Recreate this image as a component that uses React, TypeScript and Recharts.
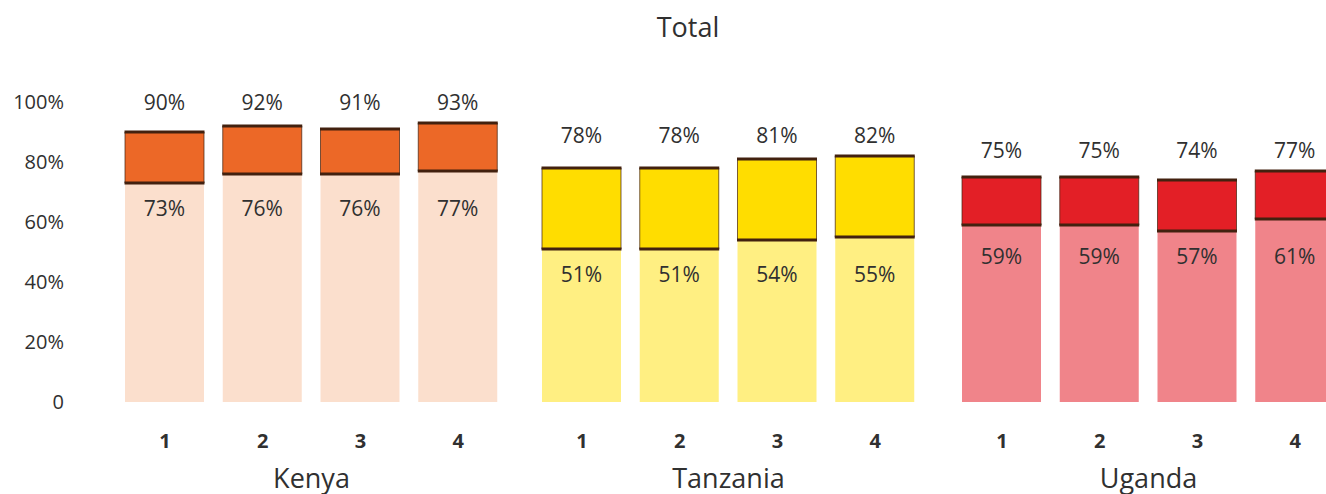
import React from 'react';
import { BarChart, Bar, XAxis, YAxis, LabelList } from 'recharts';

const quarters = ['1', '2', '3', '4'];
const yTicks = [0, 20, 40, 60, 80, 100];

const kenyaLow = [73, 76, 76, 77];
const kenyaHigh = [90, 92, 91, 93];
const tanzaniaLow = [51, 51, 54, 55];
const tanzaniaHigh = [78, 78, 81, 82];
const ugandaLow = [59, 59, 57, 61];
const ugandaHigh = [75, 75, 74, 77];

const FONT = '"Open Sans", sans-serif';
const TEXT = '#303030';
const EDGE = '#42210f';
const CHART_H = 494;
const PLOT_TOP = 102;
const AXIS_H = 92;
const PLOT_H = CHART_H - PLOT_TOP - AXIS_H;

const yOf = (v: number) => PLOT_TOP + PLOT_H * (1 - v / 100);

const OutlinedBox = (p: any) => {
  const { x, y, width, height, fill } = p;
  if (!width || !height) return null;
  return (
    <g>
      <rect x={x} y={y} width={width} height={height} fill={fill} />
      <line x1={x} y1={y} x2={x} y2={y + height} stroke={EDGE} strokeWidth={1} opacity={0.7} />
      <line x1={x + width} y1={y} x2={x + width} y2={y + height} stroke={EDGE} strokeWidth={1} opacity={0.7} />
      <line x1={x - 0.5} y1={y} x2={x + width + 0.5} y2={y} stroke={EDGE} strokeWidth={3} />
      <line x1={x - 0.5} y1={y + height} x2={x + width + 0.5} y2={y + height} stroke={EDGE} strokeWidth={3} />
    </g>
  );
};

const makeLabel = (labelY: number) => (p: any) => {
  const x = p.x ?? p.viewBox?.x;
  const w = p.width ?? p.viewBox?.width;
  return (
    <text
      x={x + w / 2}
      y={labelY}
      textAnchor="middle"
      dominantBaseline="central"
      fontFamily={FONT}
      fontSize={21}
      fill={TEXT}
    >
      {p.value}%
    </text>
  );
};

interface GroupProps {
  name: string;
  low: number[];
  high: number[];
  dark: string;
  light: string;
  width: number;
  left: number;
  showAxis?: boolean;
}

const GroupChart: React.FC<GroupProps> = ({ name, low, high, dark, light, width, left, showAxis }) => {
  const data = quarters.map((q, i) => ({ q, low: low[i], high: high[i], gap: high[i] - low[i] }));
  const topY = yOf(Math.max(...high)) - 21;
  const lowY = yOf(Math.min(...low)) + 25;

  return (
    <BarChart width={width} height={CHART_H} data={data} margin={{ top: PLOT_TOP, right: 0, bottom: 0, left }}>
      <XAxis
        dataKey="q"
        height={AXIS_H}
        axisLine={false}
        tickLine={false}
        tickSize={0}
        tickMargin={32}
        tick={{ fontFamily: FONT, fontSize: 20, fontWeight: 700, fill: TEXT }}
        label={{ value: name, position: 'insideBottom', offset: 6, fontFamily: FONT, fontSize: 27, fill: TEXT }}
      />
      <YAxis
        hide={!showAxis}
        width={116}
        domain={[0, 100]}
        ticks={yTicks}
        axisLine={false}
        tickLine={false}
        tickSize={0}
        tickMargin={52}
        tickFormatter={(v: number) => (v === 0 ? '0' : `${v}%`)}
        tick={{ fontFamily: FONT, fontSize: 20, fill: TEXT }}
      />
      <Bar dataKey="low" stackId="a" fill={light} barSize={79} isAnimationActive={false}>
        <LabelList dataKey="low" content={makeLabel(lowY)} />
      </Bar>
      <Bar dataKey="gap" stackId="a" fill={dark} barSize={79} shape={OutlinedBox} isAnimationActive={false}>
        <LabelList dataKey="high" content={makeLabel(topY)} />
      </Bar>
    </BarChart>
  );
};

export default function App() {
  return (
    <div
      style={{
        position: 'fixed',
        left: 0,
        top: 0,
        width: 1326,
        height: CHART_H,
        overflow: 'hidden',
        background: '#fff',
      }}
    >
      <svg width={1326} height={50} style={{ position: 'absolute', left: 0, top: 0 }}>
        <text x={688} y={37} textAnchor="middle" fontFamily={FONT} fontSize={27} fill={TEXT}>
          Total
        </text>
      </svg>
      <div style={{ display: 'flex', width: 1400 }}>
        <GroupChart name="Kenya" low={kenyaLow} high={kenyaHigh} dark="#ec6827" light="#fbdfcd" width={507} left={0} showAxis />
        <GroupChart name="Tanzania" low={tanzaniaLow} high={tanzaniaHigh} dark="#ffdd00" light="#ffef82" width={417} left={26} />
        <GroupChart name="Uganda" low={ugandaLow} high={ugandaHigh} dark="#e31f26" light="#f0848a" width={420} left={29} />
      </div>
    </div>
  );
}
